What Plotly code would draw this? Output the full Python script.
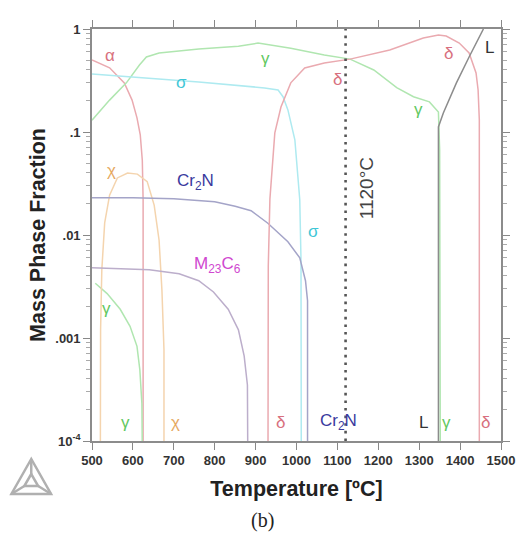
import plotly.graph_objects as go

# ---- phase fractions vs temperature (mass fraction, log scale) ----
alpha_T = [500, 543, 579, 598, 610, 618, 623, 625, 625]
alpha_f = [0.50, 0.42, 0.30, 0.204, 0.137, 0.094, 0.053, 0.022, 1e-5]

gamma_T = [500, 543, 584, 616, 633, 664, 761, 858, 906, 986, 1068, 1131, 1189,
           1245, 1286, 1325, 1347, 1350, 1352]
gamma_f = [0.13, 0.204, 0.30, 0.447, 0.535, 0.585, 0.64, 0.68, 0.73, 0.65, 0.56,
           0.51, 0.40, 0.27, 0.22, 0.196, 0.156, 0.067, 1e-5]

gamma_low_T = [508, 537, 569, 593, 610, 617, 622, 625]
gamma_low_f = [0.0034, 0.0027, 0.0019, 0.0013, 0.00083, 0.00049, 0.00023, 1e-5]

sigma_T = [500, 640, 761, 922, 955, 967, 979, 996, 1003, 1008, 1011, 1012]
sigma_f = [0.366, 0.335, 0.306, 0.268, 0.256, 0.22, 0.164, 0.084, 0.040, 0.022,
           0.0057, 1e-5]

delta_T = [930, 931, 935, 947, 962, 986, 1020, 1068, 1131, 1228, 1310, 1347,
           1366, 1398, 1422, 1439, 1444, 1447, 1447]
delta_f = [1e-5, 0.005, 0.0223, 0.098, 0.175, 0.30, 0.418, 0.468, 0.51, 0.625,
           0.818, 0.874, 0.855, 0.73, 0.585, 0.374, 0.256, 0.131, 1e-5]

liquid_T = [1347, 1347, 1359, 1391, 1422, 1457]
liquid_f = [1e-5, 0.112, 0.153, 0.30, 0.535, 1.0]

cr2n_T = [500, 600, 700, 800, 850, 889, 930, 979, 1008, 1022, 1027, 1027]
cr2n_f = [0.023, 0.023, 0.0225, 0.021, 0.019, 0.0172, 0.013, 0.0086, 0.006,
          0.0036, 0.0023, 1e-5]

m23c6_T = [500, 640, 713, 761, 797, 833, 858, 872, 880, 882]
m23c6_f = [0.0048, 0.0046, 0.0042, 0.0036, 0.0028, 0.0019, 0.0012, 0.00067,
           0.00035, 1e-5]

chi_T = [520, 521, 524, 531, 543, 562, 587, 611, 635, 652, 664, 671, 676, 676]
chi_f = [1e-5, 0.0012, 0.0046, 0.0131, 0.0244, 0.0358, 0.040, 0.039, 0.033,
         0.0195, 0.0089, 0.0029, 0.00077, 1e-5]

solution_T = 1120  # °C, marked temperature

x_ticks = [500, 600, 700, 800, 900, 1000, 1100, 1200, 1300, 1400, 1500]
y_tickvals = [1e-4, 1e-3, 1e-2, 0.1, 1]
y_ticktext = ["10<sup>-4</sup>", ".001", ".01", ".1", "1"]
y_minor = [k * 10.0 ** e for e in (-4, -3, -2, -1) for k in range(2, 10)]

# phase labels: (text, temperature, log10 fraction, colour key)
label_text = ["α", "γ", "σ", "δ", "δ", "L", "γ", "σ", "χ",
              "Cr<sub>2</sub>N", "M<sub>23</sub>C<sub>6</sub>", "γ",
              "γ", "χ", "δ", "Cr<sub>2</sub>N", "L", "γ", "δ"]
label_T = [543, 923, 718, 1100, 1372, 1471, 1298, 1042, 548,
           754, 807, 536,
           582, 703, 962, 1102, 1311, 1367, 1463]
label_logf = [-0.262, -0.282, -0.515, -0.495, -0.233, -0.184, -0.786, -1.97, -1.369,
              -1.485, -2.29, -2.71,
              -3.816, -3.816, -3.816, -3.816, -3.816, -3.816, -3.816]
label_key = ["a", "g", "s", "a", "a", "L", "g", "s", "x",
             "c", "m", "g",
             "g", "x", "a", "c", "L", "g", "a"]

line_col = {"a": "#eaaab0", "g": "#b0e6b0", "s": "#aeeaf0", "x": "#f4d4ae",
            "c": "#a4a4c8", "m": "#bcaecb", "L": "#8c8c8c"}
text_col = {"a": "#d8707e", "g": "#62c862", "s": "#3ec6d6", "x": "#e6a85e",
            "c": "#3a3a9e", "m": "#d048d0", "L": "#333333"}

fig = go.Figure()

curves = [(alpha_T, alpha_f, "a"), (gamma_T, gamma_f, "g"),
          (gamma_low_T, gamma_low_f, "g"), (sigma_T, sigma_f, "s"),
          (chi_T, chi_f, "x"), (m23c6_T, m23c6_f, "m"),
          (cr2n_T, cr2n_f, "c"), (delta_T, delta_f, "a"),
          (liquid_T, liquid_f, "L")]
for T, f, key in curves:
    fig.add_trace(go.Scatter(x=T, y=f, mode="lines",
                             line=dict(color=line_col[key], width=1.5),
                             hoverinfo="skip"))

# dotted marker line at the solution-annealing temperature
fig.add_trace(go.Scatter(x=[solution_T, solution_T], y=[1e-4, 1], mode="lines",
                         line=dict(color="#555555", width=2.6, dash="2.6px,5px"),
                         hoverinfo="skip"))

annotations = []
for txt, T, lf, key in zip(label_text, label_T, label_logf, label_key):
    annotations.append(dict(x=T, y=lf, xref="x", yref="y", text=txt,
                            showarrow=False,
                            font=dict(size=17, color=text_col[key],
                                      family="Liberation Sans, Arial")))

annotations.append(dict(x=solution_T, y=-1.55, xref="x", yref="y",
                        text=f"{solution_T}°C", textangle=-90, xshift=21,
                        showarrow=False,
                        font=dict(size=19, color="#444444",
                                  family="Liberation Sans, Arial")))

annotations.append(dict(x=0.418, y=-0.192, xref="paper", yref="paper", text="(b)",
                        showarrow=False, yanchor="middle", xanchor="center",
                        font=dict(size=20, color="#222222",
                                  family="Liberation Serif, Times New Roman")))


# Thermo-Calc style triangle logo in the lower-left corner (pixel -> paper)
def px(x):
    return (x - 92.3) / 412.7


def py(y):
    return (441 - y) / 412.0


outer = [(31, 459), (11, 494), (51, 494)]
inner = [(31, 474), (24, 486), (38, 486)]
logo_shapes = []
for tri in (outer, inner):
    path = "M {} {} L {} {} L {} {} Z".format(
        px(tri[0][0]), py(tri[0][1]), px(tri[1][0]), py(tri[1][1]),
        px(tri[2][0]), py(tri[2][1]))
    logo_shapes.append(dict(type="path", path=path, xref="paper", yref="paper",
                            line=dict(color="#b0b0b0", width=2.5)))
for (ox, oy), (ix, iy) in zip(outer, inner):
    logo_shapes.append(dict(type="line", xref="paper", yref="paper",
                            x0=px(ox), y0=py(oy), x1=px(ix), y1=py(iy),
                            line=dict(color="#b0b0b0", width=2.5)))

axis_font = dict(size=13, color="#333333", family="Liberation Sans, Arial",
                 weight="bold")
fig.update_layout(
    width=527, height=535,
    margin=dict(l=92, r=22, t=29, b=94),
    paper_bgcolor="white", plot_bgcolor="white",
    showlegend=False,
    annotations=annotations,
    shapes=logo_shapes,
    xaxis=dict(range=[500, 1500], tickvals=x_ticks, ticks="outside", ticklen=7,
               tickwidth=1.3, tickcolor="#888888", showline=True,
               linecolor="#8c8c8c", linewidth=1.6, mirror="allticks",
               showgrid=False, zeroline=False, tickfont=axis_font,
               title=dict(text="Temperature [ºC]", standoff=14,
                          font=dict(size=21.5, color="#222222",
                                    family="Liberation Sans, Arial",
                                    weight="bold"))),
    yaxis=dict(type="log", range=[-4, 0], tickvals=y_tickvals,
               ticktext=y_ticktext, ticks="outside", ticklen=7, tickwidth=1.3,
               tickcolor="#888888", showline=True, linecolor="#8c8c8c",
               linewidth=1.6, mirror="allticks", showgrid=False,
               zeroline=False, tickfont=axis_font,
               minor=dict(tickvals=y_minor, ticks="outside", ticklen=4,
                          tickwidth=1, tickcolor="#aaaaaa", showgrid=False),
               title=dict(text="Mass Phase Fraction", standoff=4,
                          font=dict(size=21.5, color="#222222",
                                    family="Liberation Sans, Arial",
                                    weight="bold"))),
)

fig.write_html("out.html")
